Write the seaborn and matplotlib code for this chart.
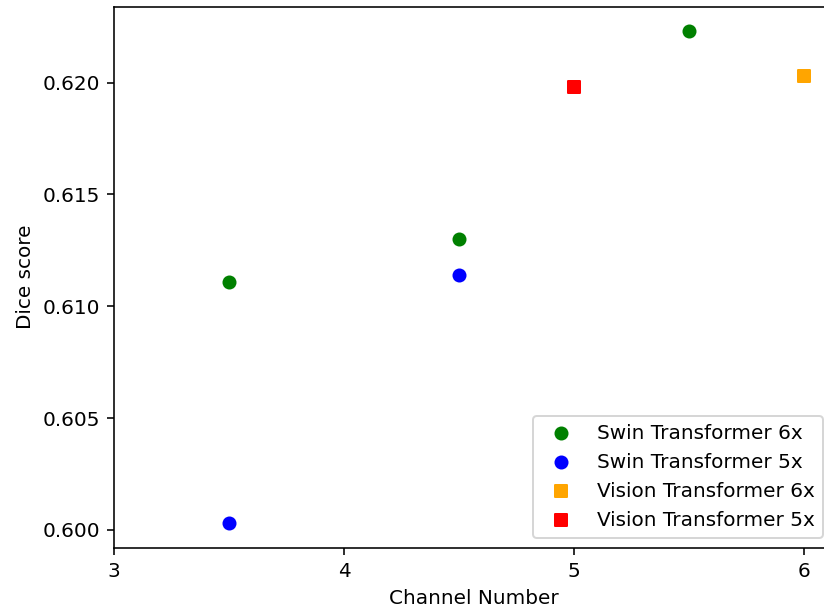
import matplotlib
matplotlib.use("Agg")
import matplotlib.pyplot as plt
import seaborn as sns
import pandas as pd

# Dice scores by channel number for each backbone / upsampling factor
swin_6x_channels = [3.5, 4.5, 5.5]
swin_6x_dice = [0.6111, 0.6130, 0.6223]

swin_5x_channels = [3.5, 4.5]
swin_5x_dice = [0.6003, 0.6114]

vit_6x_channels = [6]
vit_6x_dice = [0.6203]

vit_5x_channels = [5]
vit_5x_dice = [0.6198]

series = [
    ("Swin Transformer 6x", swin_6x_channels, swin_6x_dice, "green", "o"),
    ("Swin Transformer 5x", swin_5x_channels, swin_5x_dice, "blue", "o"),
    ("Vision Transformer 6x", vit_6x_channels, vit_6x_dice, "orange", "s"),
    ("Vision Transformer 5x", vit_5x_channels, vit_5x_dice, "red", "s"),
]

fig = plt.figure(figsize=(824 / 144, 611 / 144), dpi=144)
ax = fig.add_axes([114.3 / 824, (611 - 547.7) / 611, (833 - 114.3) / 824, (547.7 - 6.7) / 611])

for label, xs, ys, color, marker in series:
    df = pd.DataFrame({"Channel Number": xs, "Dice score": ys})
    sns.scatterplot(data=df, x="Channel Number", y="Dice score", ax=ax,
                    color=color, marker=marker, s=36, edgecolor=color,
                    linewidth=1, label=label)

ax.set_xlim(3, 6.125)
ax.set_xticks([3, 4, 5, 6])
ax.set_xlabel("Channel Number")
ax.set_ylabel("Dice score")
ax.legend(loc="lower right")

fig.savefig("out.png", dpi=144)
